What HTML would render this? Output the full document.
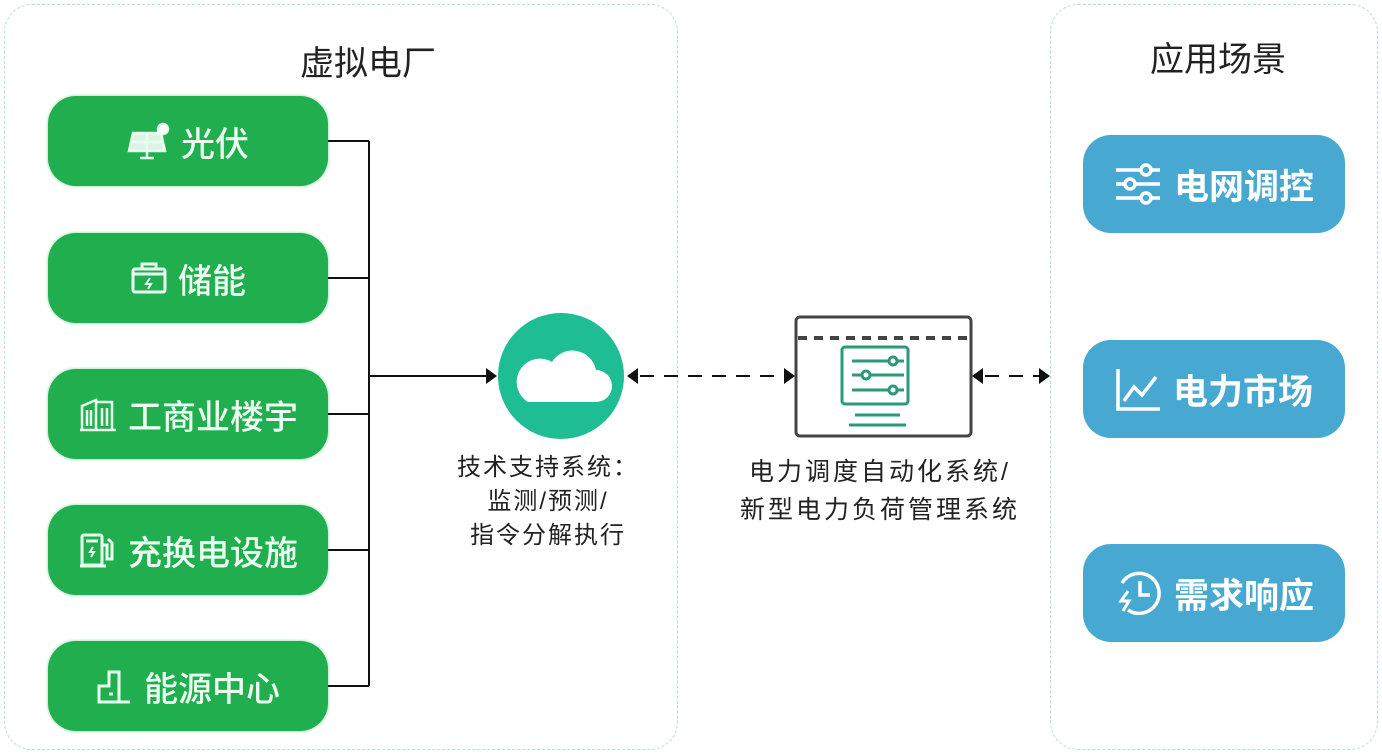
<!DOCTYPE html>
<html><head><meta charset="utf-8"><style>
body{margin:0;width:1382px;height:754px;background:#fff;position:relative;overflow:hidden;font-family:"Liberation Sans","Noto Sans CJK SC",sans-serif}
.panel{position:absolute;border:1.5px dashed #b9d9e4;border-radius:28px}
.g{position:absolute;left:48px;width:280px;height:90px;background:#20ae4f;border-radius:28px;color:#eafff0;font-size:34px;font-weight:500;display:flex;align-items:center;justify-content:center;gap:10px;box-shadow:0 0 3px #7ed69a}
.b{position:absolute;left:1083px;width:262px;height:98px;background:#47a9d2;border-radius:28px;color:#fff;font-size:35px;font-weight:700;display:flex;align-items:center;justify-content:center;gap:12px}
.t{position:absolute;font-size:34px;color:#222;text-align:center}
.lbl{position:absolute;font-size:24px;color:#222;text-align:center;line-height:34px;letter-spacing:2px}
svg.i{flex:none}
</style></head><body>
<div class="panel" style="left:4px;top:4px;width:672px;height:744px"></div>
<div class="panel" style="left:1050px;top:4px;width:326px;height:744px"></div>
<div class="t" style="left:268px;top:36px;width:200px">虚拟电厂</div>
<div class="t" style="left:1118px;top:32px;width:200px">应用场景</div>
<div class="g" style="top:96px"><svg class="i" width="44" height="40" viewBox="0 0 44 40" fill="none" stroke="#e8fff0" stroke-width="2.5"><path d="M6 12h28l4 18H2z" fill="#fff" fill-opacity=".85"/><path d="M20 12v18M4 21h32M20 30v6M13 37h14"/><circle cx="36" cy="8" r="5" fill="#fff"/></svg>光伏</div>
<div class="g" style="top:233px"><svg class="i" width="38" height="34" viewBox="0 0 38 34" fill="none" stroke="#e8fff0" stroke-width="3"><rect x="3" y="8" width="32" height="23" rx="2"/><path d="M12 8V3h14v5M3 13h32"/><path d="M20 17l-4 6h5l-3 5" stroke-width="2"/></svg>储能</div>
<div class="g" style="top:369px"><svg class="i" width="40" height="36" viewBox="0 0 40 36" fill="none" stroke="#e8fff0" stroke-width="2.5"><path d="M4 34V10l14-6v30M18 6h16v28M2 34h36M9 14v16M13 14v16M24 12v18M29 12v18"/></svg>工商业楼宇</div>
<div class="g" style="top:505px"><svg class="i" width="40" height="38" viewBox="0 0 40 38" fill="none" stroke="#e8fff0" stroke-width="3"><rect x="4" y="4" width="20" height="30" rx="2"/><path d="M2 35h26M8 10h12M24 14h5v14h5V12l-4-4"/><path d="M15 16l-3 5h4l-3 5" stroke-width="2"/></svg>充换电设施</div>
<div class="g" style="top:641px"><svg class="i" width="38" height="36" viewBox="0 0 38 36" fill="none" stroke="#e8fff0" stroke-width="3"><path d="M3 34V18h10V4h10v30zM2 34h32M13 26h4"/></svg>能源中心</div>
<div class="b" style="top:135px"><svg class="i" width="48" height="44" viewBox="0 0 48 44" stroke="#fff" stroke-width="3.5" fill="#47a9d2"><path d="M2 8h44M2 22h44M2 36h44"/><circle cx="32" cy="8" r="5"/><circle cx="16" cy="22" r="5"/><circle cx="32" cy="36" r="5"/></svg>电网调控</div>
<div class="b" style="top:340px"><svg class="i" width="46" height="44" viewBox="0 0 46 44" stroke="#fff" stroke-width="3.5" fill="none"><path d="M3 2v40h42M9 34l10-14 8 8 14-18"/></svg>电力市场</div>
<div class="b" style="top:544px"><svg class="i" width="48" height="48" viewBox="0 0 48 48" stroke="#fff" stroke-width="3.5" fill="none"><path d="M8 14A20 20 0 1 1 14 41"/><path d="M26 12v14h10"/><path d="M14 22l-7 10h8l-6 10" stroke-width="3"/></svg>需求响应</div>
<svg width="1382" height="754" style="position:absolute;left:0;top:0">
<g stroke="#111" stroke-width="2" fill="none">
<path d="M328 141H369M328 278H369M328 414H369M328 550H369M328 686H369M369 141V686M369 376H488"/>
<path d="M640 376H785M985 376H1040" stroke-dasharray="14 10"/>
</g>
<g fill="#111">
<path d="M497 376l-11-8v16z"/><path d="M627 376l11-8v16z"/>
<path d="M795 376l-11-8v16z"/><path d="M972 376l11-8v16z"/><path d="M1050 376l-11-8v16z"/>
</g>
<circle cx="561" cy="376" r="63" fill="#1fbd94"/>
<path d="M528 402h68a16 16 0 0 0 0-32 24 24 0 0 0-44-8 18 18 0 0 0-24 40z" fill="#fff"/>
<rect x="796" y="317" width="175" height="119" rx="4" fill="#fff" stroke="#444" stroke-width="3"/>
<path d="M798 338H969" stroke="#444" stroke-width="4" stroke-dasharray="9 7"/>
<rect x="842" y="347" width="66" height="57" rx="3" fill="none" stroke="#2a9a7a" stroke-width="3"/>
<g stroke="#2a9a7a" stroke-width="3" fill="none">
<path d="M852 361H904M852 375H904M852 390H904M855 415H900M849 425H906"/>
<circle cx="893" cy="361" r="4" fill="#fff"/><circle cx="866" cy="375" r="4" fill="#fff"/><circle cx="893" cy="390" r="4" fill="#fff"/>
</g>
</svg>
<div class="lbl" style="left:418px;top:451px;width:260px">技术支持系统：<br>监测/预测/<br>指令分解执行</div>
<div class="lbl" style="left:700px;top:453px;width:360px;font-size:25px;letter-spacing:3px;line-height:38px">电力调度自动化系统/<br>新型电力负荷管理系统</div>
</body></html>
